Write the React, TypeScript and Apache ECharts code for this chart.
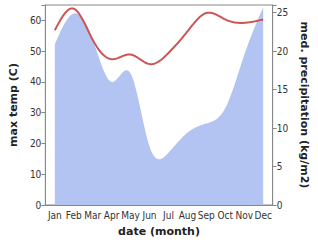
import React, { useEffect, useRef } from "react";
import * as echarts from "echarts";

const months = ["Jan", "Feb", "Mar", "Apr", "May", "Jun", "Jul", "Aug", "Sep", "Oct", "Nov", "Dec"];
const maxTemp = [56.8, 63.8, 53.7, 47.4, 48.9, 45.8, 49.4, 56.4, 62.4, 60.3, 59.2, 60.3];
const precipitation = [20.9, 24.9, 21.5, 16, 17.1, 7.6, 6.8, 9.4, 10.6, 12.6, 19.5, 25.7];
const tempTicks = [0, 10, 20, 30, 40, 50, 60];
const precipTicks = [0, 5, 10, 15, 20, 25];

// natural cubic spline second derivatives (uniform spacing of 1)
function splineM(y: number[]): number[] {
  const n = y.length;
  const a = new Array(n).fill(0);
  const b = new Array(n).fill(0);
  const c = new Array(n).fill(0);
  const d = new Array(n).fill(0);
  b[0] = 1; b[n - 1] = 1;
  for (let i = 1; i < n - 1; i++) {
    a[i] = 1; b[i] = 4; c[i] = 1;
    d[i] = 6 * (y[i + 1] - 2 * y[i] + y[i - 1]);
  }
  for (let i = 1; i < n; i++) {
    const w = a[i] / b[i - 1];
    b[i] -= w * c[i - 1];
    d[i] -= w * d[i - 1];
  }
  const m = new Array(n).fill(0);
  m[n - 1] = d[n - 1] / b[n - 1];
  for (let i = n - 2; i >= 0; i--) m[i] = (d[i] - c[i] * m[i + 1]) / b[i];
  return m;
}

function sampleSpline(y: number[], steps: number): [number, number][] {
  const m = splineM(y);
  const out: [number, number][] = [];
  for (let i = 0; i < y.length - 1; i++) {
    for (let s = 0; s < steps; s++) {
      const t = s / steps;
      const A = 1 - t, B = t;
      const v = A * y[i] + B * y[i + 1] + ((A * A * A - A) * m[i] + (B * B * B - B) * m[i + 1]) / 6;
      out.push([i + t, v]);
    }
  }
  out.push([y.length - 1, y[y.length - 1]]);
  return out;
}

export default function App() {
  const ref = useRef<HTMLDivElement>(null);
  useEffect(() => {
    if (!ref.current) return;
    const chart = echarts.init(ref.current, null, { renderer: "svg" });
    const font = "DejaVu Sans";
    const tickFont = "'DejaVu Sans Condensed', 'DejaVu Sans'";
    const axisLine = { show: true, lineStyle: { color: "#888", width: 1 } };
    const coordAt = (api: any, x: number, v: number): number[] => {
      const i = Math.floor(x);
      const f = x - i;
      const p0 = api.coord([i, v]);
      if (f === 0) return p0;
      const p1 = api.coord([i + 1, v]);
      return [p0[0] + (p1[0] - p0[0]) * f, p0[1]];
    };
    chart.setOption({
      animation: false,
      textStyle: { fontFamily: font },
      grid: { left: 39, right: 39, top: 5, bottom: 37, show: true, borderColor: "#888", borderWidth: 1 },
      xAxis: {
        type: "category",
        data: months,
        boundaryGap: true,
        axisLine,
        axisTick: { alignWithLabel: true, length: 4, lineStyle: { color: "#888" } },
        axisLabel: { color: "#333", fontSize: 10, fontFamily: tickFont, margin: 5, interval: 0 },
        name: "date (month)",
        nameLocation: "middle",
        nameGap: 21,
        nameTextStyle: { fontWeight: "bold", fontSize: 11, color: "#222", fontFamily: font },
      },
      yAxis: [
        {
          type: "value",
          min: 0,
          max: 65,
          interval: 10,
          axisLine,
          axisTick: { show: true, length: 4, lineStyle: { color: "#888" } },
          splitLine: { show: false },
          axisLabel: {
            color: "#333",
            fontSize: 10,
            fontFamily: tickFont,
            margin: 4,
            formatter: (v: number) => (tempTicks.includes(v) ? String(v) : ""),
          },
          name: "max temp (C)",
          nameLocation: "middle",
          nameGap: 25,
          nameRotate: 90,
          nameTextStyle: { fontWeight: "bold", fontSize: 11, color: "#222", fontFamily: font },
        },
        {
          type: "value",
          min: 0,
          max: 26,
          interval: 5,
          position: "right",
          axisLine,
          axisTick: { show: true, length: 4, lineStyle: { color: "#888" } },
          splitLine: { show: false },
          axisLabel: {
            color: "#333",
            fontSize: 10,
            fontFamily: tickFont,
            margin: 4,
            formatter: (v: number) => (precipTicks.includes(v) ? String(v) : ""),
          },
          name: "med. precipitation (kg/m2)",
          nameLocation: "middle",
          nameGap: 26,
          nameRotate: -90,
          nameTextStyle: { fontWeight: "bold", fontSize: 11, color: "#222", fontFamily: font },
        },
      ],
      series: [
        {
          type: "custom",
          yAxisIndex: 1,
          data: precipitation.map((v, i) => [i, v]),
          z: 1,
          renderItem: (params: any, api: any) => {
            if (params.dataIndex !== 0) return null;
            const pts = sampleSpline(precipitation, 20).map(([x, v]) => coordAt(api, x, v));
            const base0 = api.coord([0, 0]);
            const base1 = api.coord([precipitation.length - 1, 0]);
            pts.push([base1[0], base1[1]]);
            pts.push([base0[0], base0[1]]);
            return {
              type: "polygon",
              shape: { points: pts },
              style: { fill: "#b3c3f2", stroke: "none" },
            };
          },
        },
        {
          type: "custom",
          yAxisIndex: 0,
          data: maxTemp.map((v, i) => [i, v]),
          z: 2,
          renderItem: (params: any, api: any) => {
            if (params.dataIndex !== 0) return null;
            const pts = sampleSpline(maxTemp, 20).map(([x, v]) => coordAt(api, x, v));
            return {
              type: "polyline",
              shape: { points: pts },
              style: { fill: "none", stroke: "#cd5555", lineWidth: 2, lineJoin: "round" },
            };
          },
        },
      ],
    });
    return () => chart.dispose();
  }, []);
  return <div ref={ref} style={{ width: 318, height: 242, position: "absolute", left: 0, top: 0 }} />;
}
